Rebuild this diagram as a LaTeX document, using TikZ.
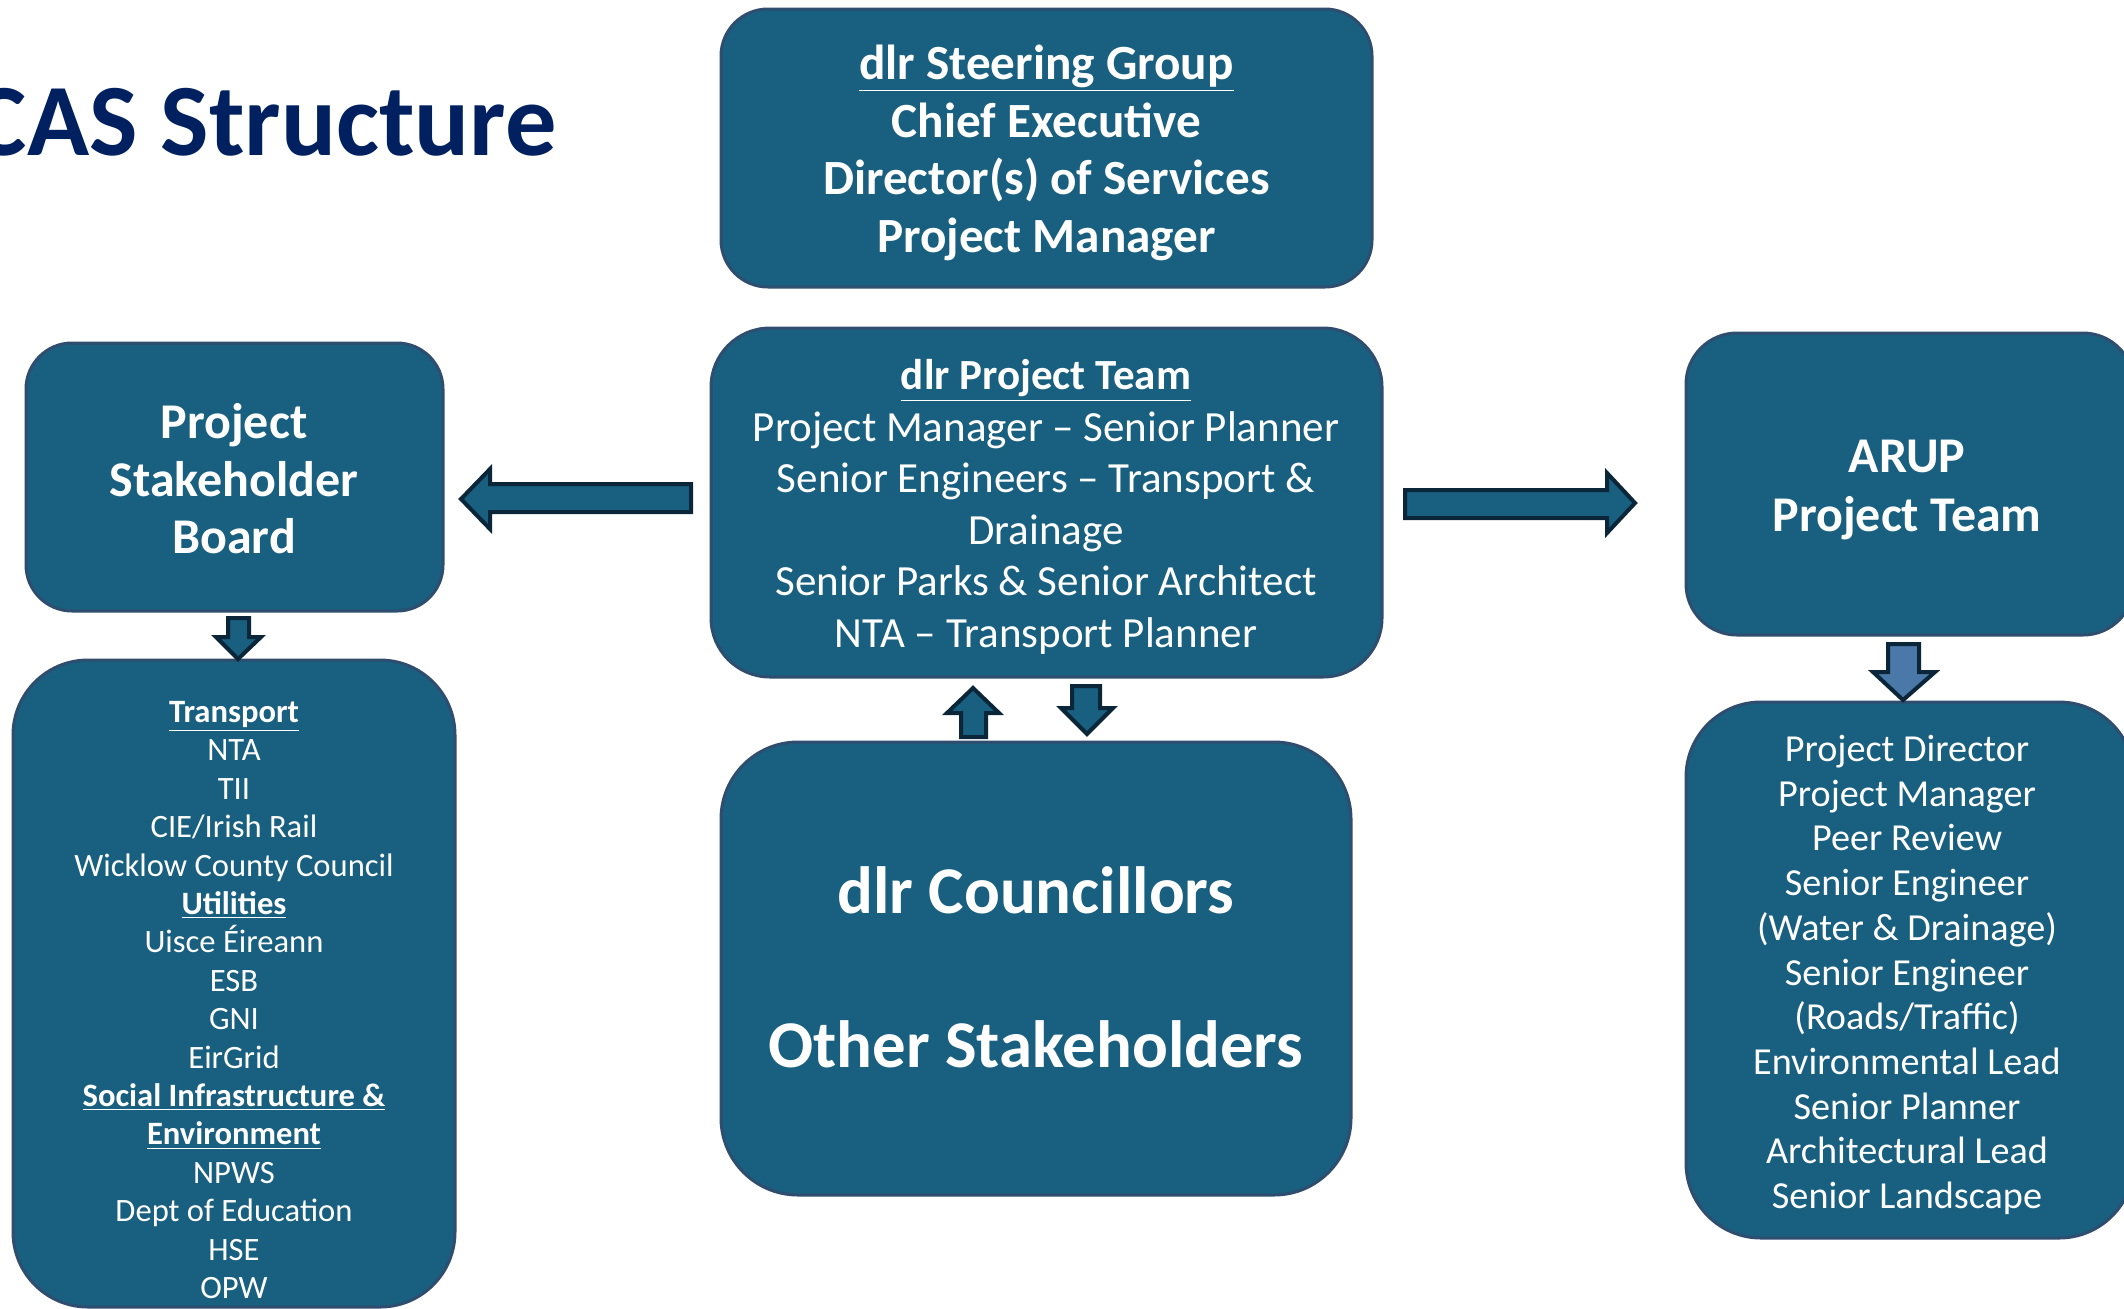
\documentclass[tikz,border=0pt]{standalone}
\usepackage{fontspec}
\setmainfont{Carlito}
\definecolor{boxfill}{HTML}{185F80}
\definecolor{boxline}{HTML}{2F4D6E}
\definecolor{arrline}{HTML}{0B2638}
\definecolor{arrlight}{HTML}{4A78A8}
\definecolor{titlecol}{HTML}{002060}
\tikzset{
  box/.style={draw=boxline, line width=1.5pt, fill=boxfill, rounded corners=#1, inner sep=0pt, shape=rectangle},
  txt/.style={text=white, align=center, inner sep=0pt},
  blockarrow/.style={draw=arrline, line width=2pt, fill=boxfill, line join=miter},
  blockarrowlight/.style={draw=arrline, line width=2pt, fill=arrlight, line join=miter}
}
\begin{document}
\begin{tikzpicture}[x=0.5pt,y=-0.5pt]
\useasboundingbox (0,0) rectangle (2124,1308);

% title
\node[anchor=base east, text=titlecol, inner sep=0pt,
      font=\fontsize{51.25}{60}\selectfont\bfseries] (title) at (557,155) {CAS Structure};

% boxes
\node[box=23.5pt, minimum width=325.5pt, minimum height=139pt] (steer) at (1046.5,148) {};
\node[box=23pt, minimum width=208.5pt, minimum height=134pt] (board) at (234.5,477) {};
\node[box=29.5pt, minimum width=335.5pt, minimum height=174.5pt] (team) at (1046.5,502.5) {};
\node[box=25.5pt, minimum width=224pt, minimum height=151pt] (arup) at (1910,484) {};
\node[box=37.5pt, minimum width=221pt, minimum height=323.5pt] (lleft) at (234,983.5) {};
\node[box=38.5pt, minimum width=315pt, minimum height=226.5pt] (coun) at (1036,968.5) {};
\node[box=37.5pt, minimum width=224pt, minimum height=268pt] (lright) at (1910,970) {};

% texts
\node[txt, font=\fontsize{24.6}{28.8}\selectfont\bfseries] (steer-t) at (1046.5,153)
  {\underline{dlr Steering Group}\\Chief Executive\\Director(s) of Services\\Project Manager};
\node[txt, font=\fontsize{25}{28.8}\selectfont\bfseries] (board-t) at (234,479)
  {Project\\Stakeholder\\Board};
\node[txt, font=\fontsize{21.5}{25.75}\selectfont] (team-t) at (1046,507)
  {\textbf{\underline{dlr Project Team}}\\Project Manager – Senior Planner\\Senior Engineers – Transport \&\\Drainage\\Senior Parks \& Senior Architect\\NTA – Transport Planner};
\node[txt, font=\fontsize{25}{29.8}\selectfont\bfseries] (arup-t) at (1907,490)
  {ARUP\\Project Team};
\node[txt, font=\fontsize{16.3}{19.2}\selectfont] (lleft-t) at (234,1000)
  {\textbf{\underline{Transport}}\\NTA\\TII\\CIE/Irish Rail\\Wicklow County Council\\\textbf{\underline{Utilities}}\\Uisce Éireann\\ESB\\GNI\\EirGrid\\\textbf{\underline{Social Infrastructure \&}}\\\textbf{\underline{Environment}}\\NPWS\\Dept of Education\\HSE\\OPW};
\node[txt, font=\fontsize{33.4}{38.5}\selectfont\bfseries] (coun-t) at (1036,967)
  {dlr Councillors\\[38.5pt]Other Stakeholders};
\node[txt, font=\fontsize{19.1}{22.35}\selectfont] (lright-t) at (1907,975)
  {Project Director\\Project Manager\\Peer Review\\Senior Engineer\\(Water \& Drainage)\\Senior Engineer\\(Roads/Traffic)\\Environmental Lead\\Senior Planner\\Architectural Lead\\Senior Landscape};

% block arrows
\draw[blockarrow] (691,484) -- (490,484) -- (490,469) -- (461,499) -- (490,529) -- (490,512) -- (691,512) -- cycle;
\draw[blockarrow] (1405,490) -- (1607,490) -- (1607,473) -- (1635,503) -- (1607,533) -- (1607,518) -- (1405,518) -- cycle;
\draw[blockarrow] (961,737) -- (961,713) -- (947,713) -- (973,688) -- (999,713) -- (986,713) -- (986,737) -- cycle;
\draw[blockarrow] (1072,686) -- (1100,686) -- (1100,708) -- (1113,708) -- (1087,734) -- (1061,708) -- (1072,708) -- cycle;
\draw[blockarrow] (228,618) -- (249,618) -- (249,637) -- (261,637) -- (238,659) -- (216,637) -- (228,637) -- cycle;
\draw[blockarrowlight] (1888,644) -- (1919,644) -- (1919,672) -- (1935,672) -- (1903,700) -- (1873,672) -- (1888,672) -- cycle;
\end{tikzpicture}
\end{document}
